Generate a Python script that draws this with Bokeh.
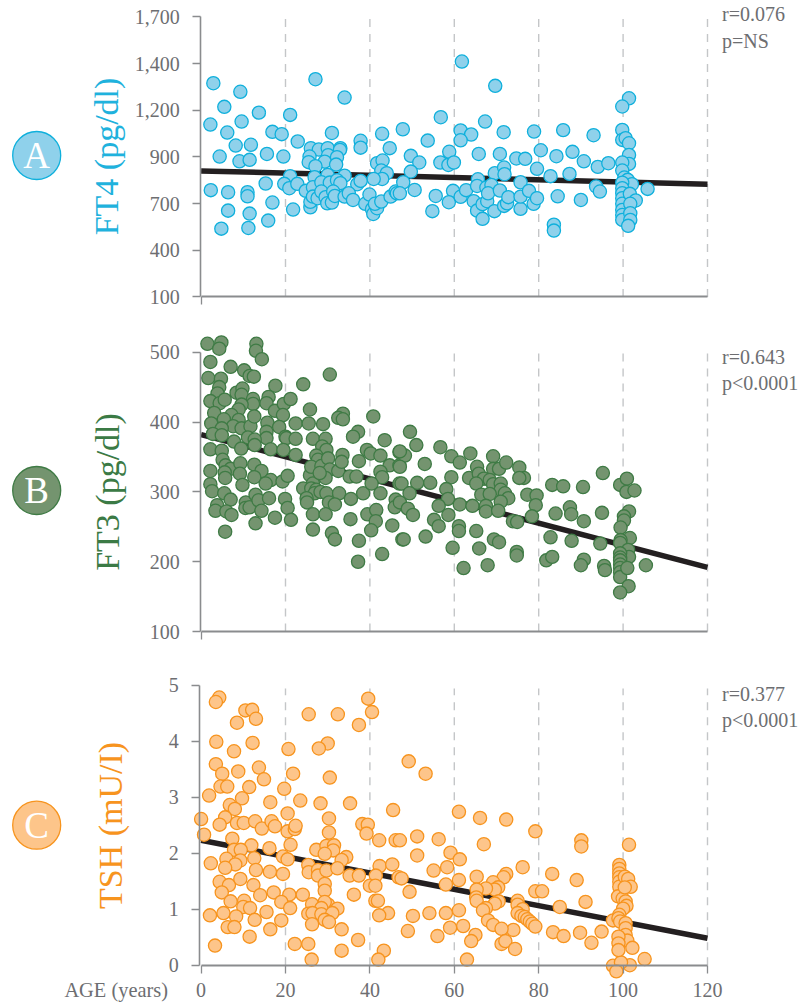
from bokeh.plotting import figure
from bokeh.layouts import column
from bokeh.models import FixedTicker, Label
from bokeh.embed import file_html
from bokeh.resources import INLINE

# ---------- data ----------
age_ticks = [0, 20, 40, 60, 80, 100, 120]
dash_ages = [20, 40, 60, 80, 100, 120]

ft4_ticks = [100, 366.67, 633.33, 900, 1166.67, 1433.33, 1700]
ft4_labels = ["100", "400", "700", "900", "1,200", "1,400", "1,700"]
ft4_fit_age = [0, 120]
ft4_fit = [820, 744]
ft4_age = [2.9,9.3,5.5,13.7,21.1,2.2,9.6,6.2,16.9,19.1,27.1,34,31,22.9,8.2,11.8,4.4,15.6,19.5,9.1,11.5,26,27.9,30,33,32.9,25.7,30.1,32.2,25.5,29.3,27.1,32,37.8,37.8,42.9,44.7,41.7,43,42.7,44,42.9,40.9,21.1,26.9,30,34,19.7,20.9,22.8,24.8,26.5,28.5,30.5,32.2,33,37,37.8,2.3,6.4,11,11,15.3,16.9,6.4,11.5,15.9,4.8,11.2,21.8,25.9,25.9,26.5,27.6,28.5,29.5,29.9,31,31.3,31.7,34,35,36,38.9,39.9,40.5,40.8,41.7,41.2,42.7,44.9,46.1,46.4,
47.8,61.8,69.7,56.8,67.3,61.5,64,61.5,71.7,78.9,85.8,93,53.7,49.7,58.8,65.8,70.8,80.5,84.2,88,51.7,56.7,58.6,59.9,74.7,76.8,90.7,94,96.5,49.7,69.6,71.8,71.9,79.6,82.8,87.3,65.6,75.7,47.9,47.1,50.6,55.6,59.7,58.7,54.8,61.5,62.8,64.6,65.4,65.4,66.7,66.7,67.8,67.6,68.8,68,69.5,70.8,71.8,72.5,72.8,75.7,75.7,77.7,78.8,79.6,84.5,90,93.6,94.5,83.6,83.6,105.8,
101.4,99.8,99.8,99.8,100.6,101.4,101.4,101.4,99.8,99.8,100.3,101.1,102.1,99.8,99.8,99.8,99.8,99.8,99.8,99.8,99.8,101.6,103,101.7,101.7,101.7,101.2]
ft4_val = [1321,1272,1186,1153,1140,1085,1102,1039,1043,1030,1344,1239,1037,988,965,969,902,917,902,875,883,950,942,950,950,940,902,910,898,870,873,847,856,992,953,1032,950,864,879,822,807,774,774,790,784,797,793,746,721,746,706,727,755,753,767,750,744,763,710,698,698,675,748,639,593,576,536,490,494,599,612,643,673,664,702,670,635,639,702,677,673,692,654,632,685,601,574,607,632,645,673,702,692,
1058,1445,1306,1127,1102,1051,1028,995,1041,1045,1053,1024,993,906,929,917,917,938,904,929,868,868,854,868,891,889,875,843,864,816,807,839,801,832,790,803,772,755,755,692,711,677,706,641,590,672,710,647,734,593,546,630,647,725,740,692,590,708,620,635,670,603,673,706,632,664,675,654,731,702,513,479,717,
1235,1188,1054,997,1007,978,911,860,868,822,782,769,744,753,721,692,664,632,597,568,540,689,651,632,578,540,506]

ft3_ticks = [100, 200, 300, 400, 500]
ft3_fit_age = [0, 120]
ft3_fit = [382, 192]
ft3_age = [1.5,4.8,4.3,13.1,13,14.4,2.2,7,10.2,11.5,12.5,1.7,4.7,4.3,3.9,2.2,4.4,5.6,8.4,9.8,9.6,12.3,12.3,9.6,8.9,7.2,3.1,5.4,2.4,8.9,7.6,9.6,11.7,12.6,4.9,2.8,4.9,17.6,16,15.5,17.5,19.6,21.2,19.4,15.7,18.5,15.5,15.5,20,20.2,22.4,25.8,25.5,28.9,24.2,30.5,33.6,32.5,33.6,40.8,37.2,36,43.5,22.4,26.5,29.5,28.7,29.7,7.8,9.5,11.1,12.7,12.7,16.5,19.5,22.4,2.2,4.9,5.1,5.8,2.2,7,5.6,5.7,9.3,9.2,9.8,12.6,14.3,12.6,16.5,15.3,19.3,20.5,2.2,2.6,5.5,7,3.8,3.4,6,7.2,10.6,10.5,11.5,12.9,13.6,14.3,16.1,17.5,12.9,5.7,19.9,20.5,21.3,25.8,26.5,27.3,27.7,26.1,28.5,30.1,30.5,32.5,33.5,33.3,35.2,36.8,37.4,29.5,28.1,24.2,26.1,27.3,26.9,28.3,29.7,32.7,38.4,25,25.1,30.3,31.7,35.5,26.5,29.5,35.4,39.4,41.5,41.4,40.3,26.5,31,31.7,37.4,37.2,42.9,39.3,40.2,42.5,47,44.7,47,42.5,42.9,40.4,47,42.5,46.1,45.9,45.3,47.7,
49.5,51,48.3,47.1,47.1,53,56.7,59.3,61.3,63.8,69.2,65.4,69.2,70.6,72.3,75.4,76.5,75.4,59.3,63.5,65.8,67,65.2,68.4,69.2,71,47.5,51.2,54.3,58.1,49.4,71,72,72.8,71,77.3,79.5,79.3,66.4,68.4,58.5,56.3,61.3,64.3,67.5,67.5,70.4,58.6,47.1,49,50.2,55.2,56.3,78.4,73.9,74.9,48,53.2,61.1,61.1,65.2,69.4,70.6,59.6,65.9,62.2,67.9,74.8,74.8,83.2,85.8,90.5,95.2,84,87.4,87.7,90.7,95,82.8,87.8,94.6,81.8,83.2,90.7,90,95.5,95.7,99.3,100.9,100.8,102.7,105.4,101.4,100.2,100.2,99.4,101.6,99.4,99.3,101.2,101.4,99.3,99.3,99.3,99.3,99.3,99.3,99.3,101,101.3,99.3]
ft3_val = [512,514,505,512,502,490,486,479,474,466,465,463,462,450,441,430,427,432,442,448,439,433,426,425,418,410,413,404,398,403,394,391,394,408,391,383,381,452,436,427,416,426,433,410,399,393,386,377,379,377,398,418,398,397,454,468,412,406,404,408,386,379,374,376,376,376,365,360,372,362,378,375,367,361,360,353,361,359,346,338,330,333,328,320,341,326,310,339,330,321,317,312,315,323,311,301,298,289,281,273,272,267,285,277,278,296,288,273,291,263,255,243,290,277,260,324,312,352,346,336,337,348,332,330,353,343,322,322,344,320,327,305,305,303,298,300,298,298,298,291,285,285,282,290,268,268,261,268,274,258,245,246,241,232,230,200,211,360,355,352,357,338,338,329,321,312,312,298,289,278,252,232,
386,367,352,358,336,340,364,351,342,355,351,336,333,333,342,335,320,320,321,320,326,319,312,317,311,312,312,313,313,304,298,303,298,291,286,296,295,281,296,297,290,280,282,280,280,272,273,267,285,276,267,260,251,265,258,257,232,236,251,244,244,232,228,220,219,191,195,214,209,310,308,307,327,269,278,268,258,270,235,230,226,202,207,203,195,194,188,310,319,300,302,195,272,265,259,249,234,231,227,217,207,212,206,202,196,191,185,178,191,165,156]

tsh_ticks = [0, 1, 2, 3, 4, 5]
tsh_fit_age = [0, 120]
tsh_fit = [2.23, 0.48]
tsh_age = [4.3,3.5,10.5,12.1,13,8.5,3.6,12.2,7.8,3.5,5,13.7,8.8,14.9,4.6,6.2,11.4,1.9,9.7,6.8,8,16.4,19.7,21.8,20.7,25.5,32.4,39.6,40.5,37.4,30,27.9,30.5,23.5,28.3,35.3,0,0.7,5.7,4.4,8.5,10.1,12.8,14.4,16.7,17.5,20.5,20.5,22.2,22.4,30.3,30.3,38.2,39.5,39.2,45.5,42.2,46.1,7.4,11.9,7.8,9.4,16.2,21.2,27.3,29.7,31.5,31.3,29.3,34.4,33.3,19.4,20.5,6,12.6,9.3,8.1,2.3,5.7,13,16.3,19.4,25.4,25.5,27.7,27.7,29.7,32.3,35.2,37.4,42.3,45.3,41.4,46.8,40,41.3,4.4,6.6,9.3,12.4,29.3,29.3,4.9,17.2,14,20.9,24.1,36.2,7,10.2,19,26.3,41.3,41.9,30.1,29.3,32.3,10,11.6,21.1,28.5,5.3,15.5,25.4,26.4,28.5,31.1,44.3,42.2,2.1,8.3,12.7,19,29.3,30.3,26.3,6.3,7.9,16.4,33.3,11.5,3.3,22.2,25.4,37.2,33.3,43.3,26.2,42,
49.2,53.2,61.1,66.1,72.3,79.2,47.1,51.2,56.3,67,90.1,90.1,101.4,59.1,61.3,51.2,58.3,55.1,65.3,61.1,58,47.5,72.3,71.7,76.2,83.2,89,69.2,70.4,69.6,67.5,65.3,49.4,79.2,80.8,91.1,65.2,65.3,70.5,69.6,75,75,76.2,85,67.5,66.8,61.1,58,54.1,50.2,68,69.2,75,75.9,76.7,77.3,77.9,78.5,79.2,74,71.2,62.1,59,49,56,65,64,71.2,72.1,74.4,63,83.4,85.9,89.8,92.5,94.9,97.6,105.1,97.6,101.6,99.5,98.4,
99.1,99.1,99.1,99.1,99.1,99.1,98.8,99.9,100.4,101.2,101.8,100.4,100.6,100.8,100,99.1,98.9,99.3,100.6,100.6,100.6,101,102.2,98.9,98.9,98.9]
tsh_val = [4.78,4.70,4.55,4.56,4.40,4.33,3.99,3.97,3.82,3.59,3.42,3.53,3.46,3.32,3.19,3.19,3.18,3.03,2.98,2.86,2.79,2.91,3.15,3.42,3.86,4.48,4.48,4.76,4.52,4.29,3.96,3.87,3.35,2.94,2.89,2.89,2.61,2.33,2.64,2.51,2.54,2.54,2.57,2.44,2.57,2.48,2.71,2.39,2.43,2.49,2.62,2.37,2.52,2.51,2.35,2.77,2.23,2.23,2.26,2.14,2.06,2.06,2.09,2.15,2.06,2.13,2.14,2.05,1.99,1.93,1.88,1.94,1.89,1.90,1.91,1.87,1.80,1.82,1.74,1.70,1.67,1.63,1.79,1.66,1.70,1.60,1.69,1.73,1.60,1.60,1.77,1.80,1.60,1.57,1.42,1.42,1.49,1.43,1.54,1.43,1.45,1.33,1.30,1.30,1.25,1.26,1.26,1.26,1.14,1.15,1.13,1.09,1.15,1.15,1.08,1.13,1.01,1.04,1.02,1.02,1.02,0.93,0.95,0.92,0.93,0.91,0.93,0.93,0.89,0.89,0.87,0.81,0.80,0.81,0.77,0.73,0.68,0.68,0.64,0.64,0.51,0.35,0.38,0.38,0.45,0.26,0.26,0.10,0.10,
3.64,3.42,2.74,2.63,2.60,2.39,2.23,2.30,2.25,2.16,2.23,2.12,2.15,2.01,1.89,1.96,1.75,1.69,1.58,1.52,1.44,1.55,1.63,1.57,1.75,1.63,1.52,1.48,1.39,1.35,1.37,1.35,1.31,1.32,1.32,1.13,1.21,1.15,1.14,1.10,1.15,1.08,1.00,1.04,1.02,0.98,0.98,0.93,0.93,0.88,0.80,0.72,0.93,0.88,0.86,0.82,0.78,0.74,0.69,0.63,0.65,0.70,0.67,0.61,0.52,0.54,0.43,0.38,0.43,0.29,0.10,0.59,0.52,0.58,0.40,0.60,0.80,0.11,-0.01,0,0.05,-0.11,
1.79,1.72,1.64,1.57,1.49,1.40,1.23,1.19,1.58,1.54,1.40,1.39,1.14,1.06,1.01,0.90,0.84,0.78,0.75,0.66,0.54,0.44,0.31,0.51,0.39,0.27]

# ---------- layout (page pixels) ----------
FIG_LEFT, FIG_W = 0, 803
X0_PX, PX_PER_YEAR = 200.6, 4.22
INK = "#6d6e71"
AXIS = "#8a8c8e"
SERIF = "Liberation Serif"


def panel(top, height, y_top_px, y_bot_px, v_top, v_bot, ages, vals, fit_age, fit, ticks,
          labels, stat, badge, badge_px, title, colors, standoff, axis_x, dash_top_px, show_x):
    fill, edge, text_col = colors
    scale = (v_top - v_bot) / (y_bot_px - y_top_px)
    to_v = lambda py: v_bot + (y_bot_px - py) * scale
    to_a = lambda px: (px - X0_PX) / PX_PER_YEAR
    p = figure(width=FIG_W, height=height, output_backend="svg", toolbar_location=None,
               x_range=(to_a(FIG_LEFT), to_a(FIG_LEFT + FIG_W)),
               y_range=(to_v(top + height), to_v(top)),
               min_border=0, min_border_left=0, min_border_right=0,
               min_border_top=0, min_border_bottom=0)
    p.grid.visible = False
    p.outline_line_color = None

    # dashed guides
    p.segment(dash_ages, [v_bot] * len(dash_ages), dash_ages, [to_v(dash_top_px)] * len(dash_ages),
              line_color="#c4c6c8", line_width=1.4, line_dash="8 7")
    # regression line
    p.line(fit_age, fit, line_color="#231f20", line_width=5.5)
    # points
    p.scatter(ages, vals, size=13.2, fill_color=fill, line_color=edge, line_width=1.3)

    # axes
    xa = p.xaxis[0]
    xa.fixed_location = v_bot
    xa.bounds = (0, 120)
    xa.axis_line_color = AXIS
    xa.axis_line_width = 2
    xa.major_tick_line_color = AXIS
    xa.major_tick_line_width = 1.3
    xa.major_tick_out = 8
    xa.major_tick_in = 0
    xa.minor_tick_line_color = None
    if show_x:
        xa.ticker = FixedTicker(ticks=age_ticks)
        xa.major_label_text_font = SERIF
        xa.major_label_text_font_size = "20px"
        xa.major_label_text_color = INK
        xa.major_label_standoff = 10
    else:
        xa.ticker = FixedTicker(ticks=[0])
        xa.major_label_overrides = {0: ""}

    ya = p.yaxis[0]
    ya.fixed_location = axis_x
    ya.bounds = (v_bot, v_top)
    ya.ticker = FixedTicker(ticks=ticks)
    ya.major_label_overrides = {t: l for t, l in zip(ticks, labels)}
    ya.axis_line_color = AXIS
    ya.axis_line_width = 1.6
    ya.major_tick_line_color = AXIS
    ya.major_tick_line_width = 1.3
    ya.major_tick_out = 8
    ya.major_tick_in = 0
    ya.minor_tick_line_color = None
    ya.major_label_text_font = SERIF
    ya.major_label_text_font_size = "20px"
    ya.major_label_text_color = INK
    ya.major_label_standoff = 13
    ya.axis_label = title
    ya.axis_label_text_font = SERIF
    ya.axis_label_text_font_style = "normal"
    ya.axis_label_text_font_size = "34px"
    ya.axis_label_text_color = text_col
    ya.axis_label_standoff = standoff

    # panel badge
    bx, by = to_a(badge_px[0]), to_v(badge_px[1])
    p.scatter([bx], [by], size=48, fill_color=fill, line_color=edge, line_width=1.3)
    p.add_layout(Label(x=bx, y=by, text=badge, text_font=SERIF, text_font_size="37px",
                       text_color="white", text_align="center", text_baseline="middle"))
    # statistics
    for line, py in zip(stat[0], stat[1]):
        p.add_layout(Label(x=to_a(721.5), y=to_v(py), text=line, text_font=SERIF,
                           text_font_size="20px", text_color=INK, text_baseline="alphabetic"))
    return p, to_a, to_v


a, _, _ = panel(0, 327, 16.4, 296.4, 1700, 100, ft4_age, ft4_val, ft4_fit_age, ft4_fit, ft4_ticks, ft4_labels,
                (["r=0.076", "p=NS"], [13, 40]), "A", (36.2, 155), "FT4 (pg/dl)",
                ("#8fd1eb", "#0fb0dc", "#1fb2dd"), 7, -0.1, 12, False)
b, _, _ = panel(327, 328, 351.7, 631.1, 500, 100, ft3_age, ft3_val, ft3_fit_age, ft3_fit, ft3_ticks,
                [str(t) for t in ft3_ticks],
                (["r=0.643", "p<0.0001"], [356, 382]), "B", (36.2, 490), "FT3 (pg/dl)",
                ("#74946f", "#3f7b45", "#3b7a45"), 21, -0.1, 353, False)
c, to_a_c, to_v_c = panel(655, 349, 684.7, 964.7, 5, 0, tsh_age, tsh_val, tsh_fit_age, tsh_fit, tsh_ticks,
                          [str(t) for t in tsh_ticks],
                          (["r=0.377", "p<0.0001"], [693, 719]), "C", (36.2, 824.7), "TSH (mU/I)",
                          ("#fdc58a", "#f7941e", "#f7941e"), 37, -0.3, 688, True)
c.add_layout(Label(x=to_a_c(167.5), y=to_v_c(989), text="AGE (years)", text_font=SERIF, text_font_size="20.4px",
                   text_color=INK, text_align="right", text_baseline="alphabetic"))

page = column(a, b, c, spacing=0)
open("out.html", "w").write(file_html(page, INLINE))
